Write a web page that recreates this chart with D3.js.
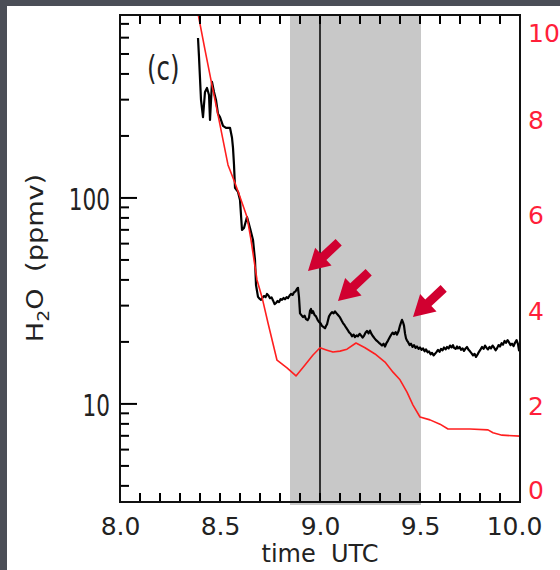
<!DOCTYPE html>
<html><head><meta charset="utf-8">
<script src="https://cdn.jsdelivr.net/npm/d3@7"></script>
<style>body{margin:0;background:#4b4e57;} svg{display:block}</style>
</head><body>
<script>
// ---- data ----
const h2oTime = [8.39,8.395,8.405,8.415,8.425,8.435,8.445,8.45,8.46,8.47,8.48,8.49,8.50,8.515,8.53,8.55,8.56,8.565,8.57,8.575,8.59,8.60,8.61,8.62,8.635,8.65,8.665,8.675,8.68,
 8.69,8.698,8.705,8.713,8.72,8.728,8.735,8.743,8.75,8.758,8.765,8.773,8.78,8.788,8.795,8.803,8.81,8.818,8.825,8.833,8.84,8.848,8.855,8.863,8.87,8.878,8.885,8.89,8.895,
 8.90,8.908,8.915,8.923,8.93,8.938,8.945,8.95,8.955,8.96,8.965,8.973,8.98,8.988,8.995,9.003,9.01,9.018,9.025,9.03,9.035,9.04,9.045,9.053,9.06,9.068,9.075,9.083,9.09,
 9.10,9.108,9.115,9.123,9.13,9.138,9.145,9.153,9.16,9.168,9.175,9.183,9.19,9.198,9.205,9.213,9.22,9.228,9.235,9.243,9.25,9.258,9.265,9.273,9.28,9.288,9.295,9.303,9.31,
 9.318,9.325,9.333,9.34,9.348,9.355,9.363,9.37,9.378,9.385,9.393,9.40,9.405,9.41,9.415,9.42,9.425,9.43,9.435,
 9.44,9.448,9.455,9.463,9.47,9.478,9.485,9.493,9.50,9.508,9.515,9.523,9.53,9.538,9.545,9.553,9.56,9.568,9.575,9.583,9.59,9.598,9.605,9.613,9.62,9.628,9.635,9.643,9.65,
 9.658,9.665,9.67,9.678,9.685,9.69,9.698,9.705,9.713,9.72,9.728,9.735,9.743,9.75,9.758,9.765,9.773,9.78,9.788,9.795,9.803,9.81,9.818,9.825,9.833,9.84,9.848,9.855,9.863,
 9.87,9.878,9.885,9.893,9.90,9.908,9.915,9.923,9.93,9.938,9.945,9.953,9.96,9.968,9.975,9.983,9.99,9.995,10.0];
const h2oValue = [598,484,299,247,327,342,316,239,366,327,299,256,247,224,219,219,196,175,145,112,107,97.8,69.9,71.5,80.8,71.5,62.5,50.0,37.8,
 33.1,32.4,32.0,32.8,33.4,33.0,34.2,33.5,32.6,32.9,31.8,30.5,30.9,31.6,31.2,32.3,32.0,32.7,32.2,33.0,32.6,33.6,34.2,33.8,34.8,35.2,36.2,36.6,33.0,
 27.5,26.9,26.4,26.8,25.8,25.5,26.2,28.3,28.9,27.6,28.2,27.0,26.6,25.6,25.0,24.6,23.9,23.6,23.3,23.9,24.3,25.5,26.6,27.4,27.9,27.5,28.1,27.5,27.0,
 26.3,25.4,24.7,24.1,23.5,22.9,22.3,21.9,21.3,21.7,21.1,21.5,21.3,21.9,21.5,21.0,21.4,22.2,22.6,22.0,22.7,21.8,21.3,20.8,20.4,20.1,19.8,19.5,19.2,
 19.6,19.0,19.8,20.3,21.0,21.6,22.2,21.8,22.3,21.7,22.6,24.0,24.8,25.6,24.9,24.0,22.0,20.8,20.3,
 20.0,19.3,19.6,18.9,19.3,18.7,19.0,18.5,18.8,18.3,18.6,18.0,18.4,17.8,18.0,17.4,17.7,17.2,17.5,17.9,18.3,17.9,18.5,18.2,18.8,18.4,18.9,18.6,19.2,
 18.8,19.3,18.7,18.5,19.0,18.6,18.9,18.3,18.6,18.1,18.6,18.9,18.3,18.0,17.6,17.2,17.5,16.9,17.4,17.9,18.4,18.9,18.5,19.2,18.7,18.4,18.9,18.6,19.2,
 18.8,18.2,18.6,19.3,19.0,19.7,19.4,20.2,19.8,20.4,19.9,19.3,19.6,19.1,19.8,20.4,19.5,18.2,19.4];
const redTime = [8.38,8.425,8.46,8.50,8.54,8.575,8.605,8.635,8.655,8.67,8.685,8.71,8.74,8.785,8.835,8.88,8.925,8.965,9.00,9.035,9.065,9.10,9.135,9.18,9.225,9.275,9.325,9.365,9.40,9.435,9.465,9.50,9.55,9.60,9.64,9.75,9.84,9.865,9.91,10.0];
const redValue = [10.45,9.47,8.73,7.90,7.06,6.68,6.33,5.97,5.49,5.07,4.65,4.29,3.75,2.97,2.81,2.64,2.87,3.08,3.23,3.18,3.14,3.16,3.20,3.33,3.23,3.10,2.93,2.72,2.56,2.30,2.03,1.78,1.72,1.63,1.53,1.53,1.51,1.45,1.40,1.38];
const xMajorTicks = [8.0, 8.5, 9.0, 9.5, 10.0];
const xMinorTicks = [8.1,8.2,8.3,8.4,8.6,8.7,8.8,8.9,9.1,9.2,9.3,9.4,9.6,9.7,9.8,9.9];
const leftMajorTicks = [10, 100];
const leftMinorTicks = [4,5,6,7,8,9,20,30,40,50,60,70,80,90,200,300,400,500,600,700];
const rightTicks = [0, 2, 4, 6, 8, 10];
const shadeStart = 8.85, shadeEnd = 9.505;
const markerTime = 9.0;
const arrowTipTime = [8.94, 9.09, 9.465];
const arrowTipValue = [44.2, 31.6, 26.4];
const panelLabel = "(c)";

// ---- layout ----
const W = 560, H = 570;
const L = 120, R = 520, T = 15, B = 502;
const svg = d3.select("body").append("svg").attr("width", W).attr("height", H);
svg.append("rect").attr("x",0).attr("y",0).attr("width",W).attr("height",H).attr("fill","#4b4e57");
svg.append("rect").attr("x",7).attr("y",6).attr("width",W-7).attr("height",H-6).attr("fill","#ffffff");

const x = d3.scaleLinear().domain([8, 10]).range([L, R]);
const y = d3.scaleLog().domain([3.34, 773]).range([B, T]);
const yr = d3.scaleLinear().domain([0, 10.2]).range([B, T]);

svg.append("defs").append("clipPath").attr("id","clip")
  .append("rect").attr("x",L).attr("y",T).attr("width",R-L).attr("height",B-T);

// shaded interval
svg.append("rect").attr("x", x(shadeStart)).attr("y", T)
  .attr("width", x(shadeEnd)-x(shadeStart)).attr("height", B+3-T).attr("fill","#c8c8c8");
// vertical marker
svg.append("rect").attr("x", x(markerTime)-0.75).attr("y",T).attr("width",1.5).attr("height",B-T)
  .attr("fill","#000");

const g = svg.append("g").attr("clip-path","url(#clip)");
const h2o = h2oTime.map((t,i)=>[t,h2oValue[i]]);
const red = redTime.map((t,i)=>[t,redValue[i]]);
g.append("path").attr("d", d3.line().x(d=>x(d[0])).y(d=>y(d[1]))(h2o))
  .attr("fill","none").attr("stroke","#000").attr("stroke-width",2.2).attr("stroke-linejoin","round");
g.append("path").attr("d", d3.line().x(d=>x(d[0])).y(d=>yr(d[1]))(red))
  .attr("fill","none").attr("stroke","#ff1f1f").attr("stroke-width",1.6).attr("stroke-linejoin","round");

// arrows
const ang = Math.atan2(29, -31) * 180 / Math.PI;
const arrowShape = [[0,0],[-21,-12],[-21,-4.5],[-42,-4.5],[-42,4.5],[-21,4.5],[-21,12]];
arrowTipTime.forEach((t,i)=>{
  svg.append("polygon").attr("points", arrowShape.map(p=>p.join(",")).join(" "))
    .attr("transform", `translate(${x(t)},${y(arrowTipValue[i])}) rotate(${ang})`)
    .attr("fill","#d10030");
});

const font = "DejaVu Sans, Verdana, sans-serif";
// tick marks as filled rects, positioned through the scales
const allX = xMajorTicks.concat(xMinorTicks);
const tk = svg.append("g").attr("fill","#000");
tk.selectAll("rect.xb").data(allX).join("rect").attr("class","xb")
  .attr("x",d=>x(d)-1).attr("y",B-9).attr("width",2).attr("height",9);
tk.selectAll("rect.xt").data(allX).join("rect").attr("class","xt")
  .attr("x",d=>x(d)-1).attr("y",T).attr("width",2).attr("height",9);
tk.selectAll("rect.ymaj").data(leftMajorTicks).join("rect").attr("class","ymaj")
  .attr("x",L).attr("y",d=>y(d)-1).attr("width",17).attr("height",2);
tk.selectAll("rect.ymin").data(leftMinorTicks).join("rect").attr("class","ymin")
  .attr("x",L).attr("y",d=>y(d)-1).attr("width",9).attr("height",2);

// frame lines
const fr = svg.append("g").attr("fill","#111");
fr.append("rect").attr("x",L-1).attr("y",T-1).attr("width",2).attr("height",B-T+2);
fr.append("rect").attr("x",R-1).attr("y",T-1).attr("width",2).attr("height",B-T+2);
fr.append("rect").attr("x",L-1).attr("y",T-1).attr("width",R-L+2).attr("height",2);
fr.append("rect").attr("x",L-1).attr("y",B-1).attr("width",R-L+2).attr("height",2);

// bottom axis labels
const bx = svg.append("g").attr("transform",`translate(0,${B})`)
  .call(d3.axisBottom(x).tickValues(xMajorTicks).tickSize(0).tickPadding(15).tickFormat(d3.format(".1f")));
bx.select(".domain").remove();
bx.selectAll("text").attr("font-size",25).attr("font-family",font).attr("fill","#222");
bx.selectAll(".tick").filter(d=>Math.abs(d-10)<1e-6).select("text").attr("dx",-6);
// left axis labels
const lmaj = svg.append("g").attr("transform",`translate(${L},0)`)
  .call(d3.axisLeft(y).tickValues(leftMajorTicks).tickSize(0).tickPadding(0).tickFormat(d3.format("d")));
lmaj.select(".domain").remove();
lmaj.selectAll("text").attr("x",0).attr("font-size",30).attr("font-family",font).attr("fill","#222")
  .attr("dy","0.38em").attr("transform","translate(-10,0) scale(0.72,1)");
// right axis labels
const ra = svg.append("g").attr("transform",`translate(${R},0)`)
  .call(d3.axisRight(yr).tickValues(rightTicks).tickSize(0).tickPadding(8).tickFormat(d3.format("d")));
ra.select(".domain").remove();
ra.selectAll("text").attr("font-size",25).attr("font-family",font).attr("fill","#ff1f3a");
ra.selectAll(".tick").filter(d=>d===0).select("text").attr("dy","-0.16em");
ra.selectAll(".tick").filter(d=>d===10).select("text").attr("dy","0.66em");

// panel label
svg.append("text").attr("transform","translate(147,80) scale(0.72,1)")
  .attr("font-size",34).attr("font-family",font).attr("fill","#222").text(panelLabel);

// x title
svg.append("text").attr("x", 320).attr("y", 562).attr("text-anchor","middle")
  .attr("font-size",24).attr("font-family",font).attr("fill","#222")
  .style("white-space","pre").text("time  UTC");

// y title
const yt = svg.append("text").attr("transform","translate(43,258) rotate(-90) scale(1.18,1)")
  .attr("text-anchor","middle").attr("font-size",23).attr("font-family",font).attr("fill","#222");
yt.append("tspan").text("H");
yt.append("tspan").attr("font-size",16).attr("dy",6).text("2");
yt.append("tspan").attr("dy",-6).text("O");
yt.append("tspan").attr("dx",14).text("(ppmv)");
</script>
</body></html>
